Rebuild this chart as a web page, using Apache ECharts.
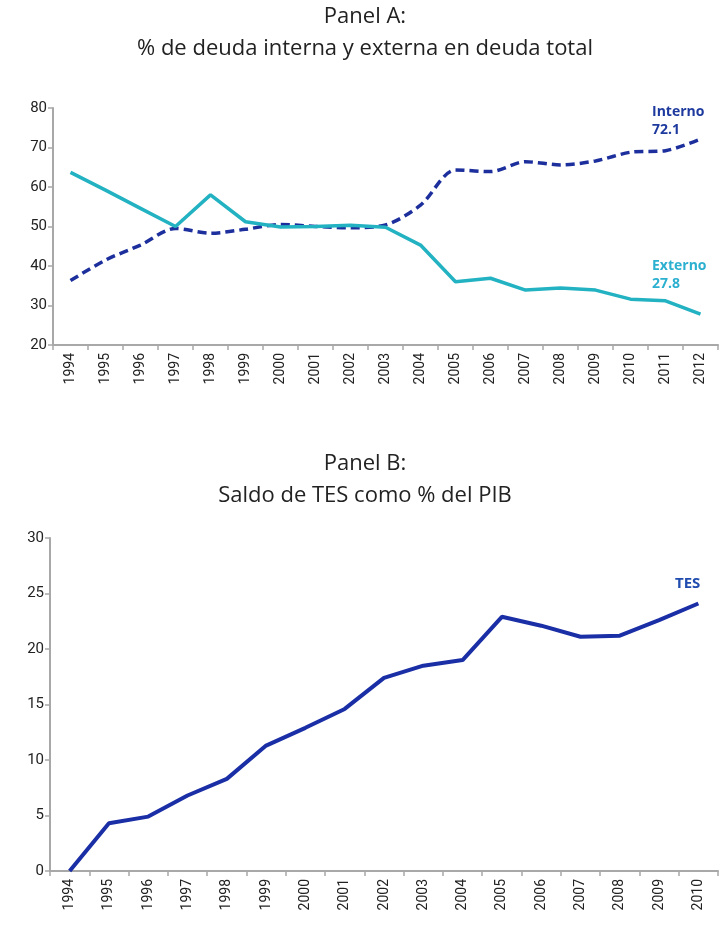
<!DOCTYPE html>
<html lang="es">
<head>
    <meta charset="utf-8">
    <title>Deuda</title>
    <script src="https://cdn.jsdelivr.net/npm/echarts@6/dist/echarts.min.js"></script>
    <style type="text/css">
        html, body {
            margin: 0;
            padding: 0;
            background: #ffffff;
        }

        #main {
            width: 720px;
            height: 929px;
        }
    </style>
</head>
<body>
<div id="main"></div>
<script type="text/javascript">
    // Panel A: deuda interna / externa (% deuda total)
    const yearsA = ['1994', '1995', '1996', '1997', '1998', '1999', '2000', '2001', '2002', '2003',
        '2004', '2005', '2006', '2007', '2008', '2009', '2010', '2011', '2012'];
    const interno = [36.3, 41.5, 45.3, 49.5, 48.3, 49.3, 50.5, 50.0, 49.7, 50.4,
        55.4, 64.3, 63.9, 66.4, 65.6, 66.6, 68.8, 69.2, 72.1];
    const externo = [63.7, 59.2, 54.6, 50.0, 58.0, 51.2, 49.9, 50.0, 50.3, 49.8,
        45.3, 36.0, 36.9, 33.9, 34.4, 33.9, 31.6, 31.2, 27.8];

    // Panel B: saldo de TES (% del PIB)
    const yearsB = ['1994', '1995', '1996', '1997', '1998', '1999', '2000', '2001', '2002',
        '2003', '2004', '2005', '2006', '2007', '2008', '2009', '2010'];
    const tes = [0.0, 4.3, 4.9, 6.8, 8.3, 11.3, 12.9, 14.6, 17.4,
        18.5, 19.0, 22.9, 22.1, 21.1, 21.2, 22.6, 24.1];

    const FONT = 'Roboto';
    const TITLE_FONT = 'Open Sans';
    const AXIS_COLOR = '#a8a8a8';
    const C_INTERNO = '#1c2f9c';
    const C_EXTERNO = '#22b2c2';
    const C_TES = '#1a2ea6';

    function catAxis(idx, data) {
        return {
            type: 'category',
            gridIndex: idx,
            data: data,
            boundaryGap: true,
            axisLine: {lineStyle: {color: AXIS_COLOR, width: 2}},
            axisTick: {show: true, length: 5, lineStyle: {color: AXIS_COLOR, width: 1.5}},
            axisLabel: {rotate: 90, color: '#222', fontFamily: FONT, fontSize: 14, margin: 8, interval: 0}
        };
    }

    function valAxis(idx, min, max, interval) {
        return {
            type: 'value',
            gridIndex: idx,
            min: min,
            max: max,
            interval: interval,
            splitLine: {show: false},
            axisLine: {show: true, lineStyle: {color: AXIS_COLOR, width: 2}},
            axisTick: {show: true, length: 5, lineStyle: {color: AXIS_COLOR, width: 1.5}},
            axisLabel: {color: '#222', fontFamily: FONT, fontSize: 15, margin: 6}
        };
    }

    function titleStyle() {
        return {fontFamily: TITLE_FONT, fontSize: 22, fontWeight: 'normal', color: '#222', lineHeight: 32};
    }

    let chart = echarts.init(document.getElementById('main'), null, {renderer: 'canvas'});

    chart.setOption({
        animation: false,
        backgroundColor: '#ffffff',
        title: [
            {
                text: 'Panel A:\n% de deuda interna y externa en deuda total',
                left: 365, top: 1, padding: 0, textAlign: 'center',
                textStyle: titleStyle()
            },
            {
                text: 'Panel B:\nSaldo de TES como % del PIB',
                left: 365, top: 448, padding: 0, textAlign: 'center',
                textStyle: titleStyle()
            }
        ],
        grid: [
            {left: 53, top: 108, width: 665, height: 237},
            {left: 50, top: 538, width: 668, height: 333}
        ],
        xAxis: [catAxis(0, yearsA), catAxis(1, yearsB)],
        yAxis: [valAxis(0, 20, 80, 10), valAxis(1, 0, 30, 5)],
        series: [
            {
                name: 'Interno',
                type: 'line',
                xAxisIndex: 0, yAxisIndex: 0,
                data: interno,
                smooth: 0.3,
                symbol: 'none',
                lineStyle: {color: C_INTERNO, width: 3.5, type: [9, 5]}
            },
            {
                name: 'Externo',
                type: 'line',
                xAxisIndex: 0, yAxisIndex: 0,
                data: externo,
                symbol: 'none',
                lineStyle: {color: C_EXTERNO, width: 3.5}
            },
            {
                name: 'TES',
                type: 'line',
                xAxisIndex: 1, yAxisIndex: 1,
                data: tes,
                symbol: 'none',
                lineStyle: {color: C_TES, width: 4}
            }
        ],
        graphic: [
            {
                type: 'text', left: 652, top: 103,
                style: {
                    text: 'Interno\n' + interno[interno.length - 1].toFixed(1),
                    fill: '#1e3a9e', font: 'bold 14px "Open Sans"', lineHeight: 18
                }
            },
            {
                type: 'text', left: 652, top: 257,
                style: {
                    text: 'Externo\n' + externo[externo.length - 1].toFixed(1),
                    fill: '#2cb0d0', font: 'bold 14px "Open Sans"', lineHeight: 18
                }
            },
            {
                type: 'text', left: 675, top: 576,
                style: {text: 'TES', fill: '#1f4cae', font: 'bold 15px "Open Sans"'}
            }
        ]
    });
</script>
</body>
</html>
